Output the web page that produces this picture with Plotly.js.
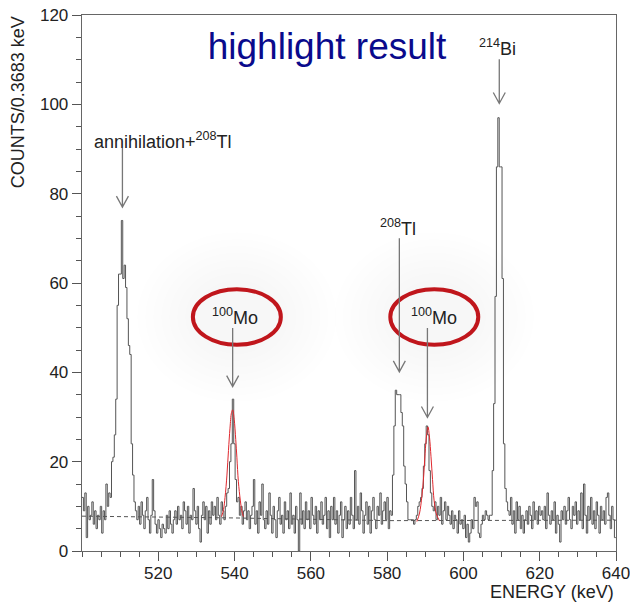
<!DOCTYPE html>
<html><head><meta charset="utf-8">
<script src="https://cdn.plot.ly/plotly-3.0.1.min.js"></script>
<style>html,body{margin:0;padding:0;background:#fff}#chart{width:630px;height:602px}</style>
</head><body><div id="chart"></div>
<script>
// ---- data ----
const binStart = 500;
const binWidth = 0.3683;
const counts = [
  12, 9, 13, 3, 10, 7, 8, 11, 6, 9, 5, 8, 7, 10, 4, 9, 7, 15, 10, 13, 12,
  20, 21, 26, 34, 55, 62, 62, 74, 61, 64, 59, 52, 46, 44, 24, 17, 11,
  9, 7, 10, 6, 11, 8, 5, 9, 12, 7, 4, 8,
  16, 9, 6, 4, 7, 5, 3, 6, 5, 4,
  8, 5, 9, 6, 4, 7, 9, 6, 10, 7,
  8, 5, 11, 9, 6, 10, 4, 8, 7, 14,
  9, 6, 10, 5, 2, 8, 11, 7, 10, 4,
  9, 6, 11, 8, 10, 7, 12, 8, 6, 11, 9, 7, 10, 13,
  14, 20, 24, 34, 24, 16, 11,
  12, 8, 10, 6, 9, 11, 7, 9, 5, 8,
  10, 16, 6, 9, 4, 11, 8, 15, 7, 5,
  9, 6, 13, 8, 4, 10, 7, 3, 9, 12,
  6, 8, 4, 11, 7, 9, 5, 13, 6, 8,
  4, 10, 7, 0, 13, 6, 9, 5, 11, 7,
  9, 5, 12, 8, 6, 10, 4, 9, 7, 11,
  6, 8, 12, 5, 9, 3, 10, 7, 12, 6,
  9, 4, 8, 11, 3, 7, 10, 5, 9, 6,
  12, 8, 5, 18, 7, 10, 6, 13, 9, 4,
  8, 11, 6, 10, 4, 9, 12, 7, 5, 10,
  8, 13, 6, 9, 11, 7, 12, 5, 9, 8,
  17, 28, 36, 35, 35, 35, 31, 28, 19, 15, 11, 7, 7,
  7, 7, 6, 7, 8, 10, 11,
  12, 14, 19, 24, 28, 26, 18, 13, 10,
  9, 11, 7, 10, 8, 12, 6, 9, 11, 7,
  10, 8, 6, 9, 5, 8, 7, 4, 9, 6,
  7, 5, 8, 3, 6, 2, 4, 7, 5, 12,
  10, 11, 4, 3, 6, 8, 7, 9, 8, 7, 8,
  8, 18, 33, 57, 86, 97, 86, 86, 61, 24, 14, 11, 9,
  8, 12, 6, 9, 4, 11, 7, 10, 5, 8,
  4, 7, 9, 6, 10, 8, 5, 11, 7, 9,
  6, 10, 8, 9, 7, 10, 5, 13, 8, 6,
  9, 7, 11, 4, 8, 6, 2, 9, 7, 10,
  6, 9, 12, 7, 5, 10, 8, 11, 6, 9,
  7, 13, 5, 15, 8, 4, 10, 7, 12, 6,
  9, 5, 11, 8, 4, 10, 7, 9, 6, 12,
  13, 8, 5, 10, 7, 3
];
const fit1Energy = [536.6, 537.1, 537.5, 538.0, 538.4, 538.8, 539.2, 539.5, 539.9, 540.3, 540.6, 541.0, 541.5, 541.9, 542.3];
const fit1Counts = [7.7, 9.3, 12, 17, 22.5, 27.5, 31, 31.6, 29.5, 25, 21, 15.5, 11.4, 9, 7.7];
const fit2Energy = [587.8, 588.5, 589.1, 589.6, 589.95, 590.35, 590.7, 591.1, 591.5, 591.9, 592.3, 592.9, 593.7];
const fit2Counts = [6.6, 8.5, 12.2, 17, 21.9, 26, 27.8, 25.5, 21.1, 16, 11.4, 8.3, 6.8];
const bgEnergy = [500, 540, 580, 640];
const bgCounts = [7.8, 7.4, 6.8, 6.9];
const xTickVals = [520, 540, 560, 580, 600, 620, 640];
const yTickVals = [0, 20, 40, 60, 80, 100, 120];

// peak labels: [text, energy, counts]
const peakLabels = [
  ['annihilation+<sup>208</sup>Tl', 521.3, 92],
  ['<sup>214</sup>Bi', 609.0, 112.8],
  ['<sup>208</sup>Tl', 582.8, 72.5],
  ['<sup>100</sup>Mo', 540.2, 52.6],
  ['<sup>100</sup>Mo', 592.3, 52.6]
];
// arrows: [energy, top counts, tip counts]
const arrows = [
  [510.6, 90.2, 77.0],
  [609.4, 110.1, 100.2],
  [583.2, 70.0, 40.1],
  [539.5, 49.9, 36.8],
  [590.56, 49.9, 29.9]
];
// circled labels: [center energy, center counts]
const rings = [[540.6, 52.4], [592.36, 52.4]];

// ---- build ----
const edges = [];
for (let i = 0; i <= counts.length; i++) edges.push(binStart + i * binWidth);
const stepY = counts.concat([counts[counts.length - 1]]);

const FONT = 'Liberation Sans, Arial, Helvetica, sans-serif';
const kevPerPx = 140 / 534.3, cntPerPx = 120 / 536;

const traces = [
  {x: bgEnergy, y: bgCounts, mode: 'lines', line: {color: '#555', width: 1, dash: '4px,3px'}, hoverinfo: 'skip'},
  {x: edges, y: stepY, mode: 'lines', line: {color: '#555', width: 1, shape: 'hv'}},
  {x: fit1Energy, y: fit1Counts, mode: 'lines', line: {color: '#e0282e', width: 1, shape: 'spline'}},
  {x: fit2Energy, y: fit2Counts, mode: 'lines', line: {color: '#e0282e', width: 1, shape: 'spline'}}
];

const shapes = [];
// soft glow around the circled labels
rings.forEach(([cx, cy]) => {
  for (let r = 100; r >= 40; r -= 8) {
    shapes.push({type: 'circle', xref: 'x', yref: 'y', layer: 'below',
      x0: cx - r * kevPerPx, x1: cx + r * kevPerPx, y0: cy - 0.85 * r * cntPerPx, y1: cy + 0.85 * r * cntPerPx,
      fillcolor: 'rgba(0,0,0,0.0045)', line: {width: 0}});
  }
});
rings.forEach(([cx, cy]) => {
  shapes.push({type: 'circle', xref: 'x', yref: 'y',
    x0: cx - 44 * kevPerPx, x1: cx + 44 * kevPerPx, y0: cy - 27.8 * cntPerPx, y1: cy + 27.8 * cntPerPx,
    line: {color: '#c0161c', width: 4}});
});
const hw = 6 * kevPerPx, hh = 11 * cntPerPx;
arrows.forEach(([x, yt, yb]) => {
  shapes.push({type: 'path', xref: 'x', yref: 'y',
    path: `M${x},${yt} L${x},${yb} M${x - hw},${yb + hh} L${x},${yb} L${x + hw},${yb + hh}`,
    line: {color: '#777', width: 1.3}});
});

const annotations = peakLabels.map(([t, x, y]) => ({
  text: t, x: x, y: y, xref: 'x', yref: 'y', showarrow: false,
  font: {family: FONT, size: 18, color: '#222'}, xanchor: 'center', yanchor: 'middle'
}));
annotations.push({text: 'COUNTS/0.3683 keV', xref: 'paper', yref: 'paper',
  x: (18 - 81.7) / 534.3, y: (551 - 102) / 536, textangle: -90, showarrow: false,
  font: {family: FONT, size: 18, color: '#222'}, xanchor: 'center', yanchor: 'middle'});
annotations.push({text: 'ENERGY (keV)', xref: 'paper', yref: 'paper',
  x: 1, y: (551 - 592) / 536, showarrow: false,
  font: {family: FONT, size: 18, color: '#222'}, xanchor: 'right', yanchor: 'middle'});

const layout = {
  width: 630, height: 602,
  margin: {l: 81.7, r: 14, t: 15, b: 51},
  paper_bgcolor: '#fff', plot_bgcolor: '#fff',
  showlegend: false,
  title: {text: 'highlight result', font: {family: FONT, size: 37, color: '#0a0a8c'},
    x: 327 / 630, xanchor: 'center', xref: 'container', y: 1 - 46 / 602, yref: 'container', yanchor: 'middle'},
  xaxis: {range: [500, 640], tickvals: xTickVals, ticktext: xTickVals.map(String),
    ticks: 'outside', ticklen: 9, tickcolor: '#555', tickwidth: 1, ticklabeloverflow: 'allow',
    ticklabelstandoff: -3,
    minor: {dtick: 5, tick0: 500, ticks: 'outside', ticklen: 5, tickcolor: '#555'},
    showline: true, linecolor: '#666', linewidth: 1.3, mirror: true,
    showgrid: false, zeroline: false, tickfont: {family: FONT, size: 17, color: '#222'}},
  yaxis: {range: [0, 120], tickvals: yTickVals, ticktext: yTickVals.map(String),
    ticks: 'outside', ticklen: 9, tickcolor: '#555', tickwidth: 1,
    minor: {dtick: 5, tick0: 0, ticks: 'outside', ticklen: 5, tickcolor: '#555'},
    showline: true, linecolor: '#666', linewidth: 1.3, mirror: true,
    showgrid: false, zeroline: false, tickfont: {family: FONT, size: 17, color: '#222'}},
  shapes: shapes, annotations: annotations
};
Plotly.newPlot('chart', traces, layout, {displayModeBar: false, staticPlot: true});
</script></body></html>
